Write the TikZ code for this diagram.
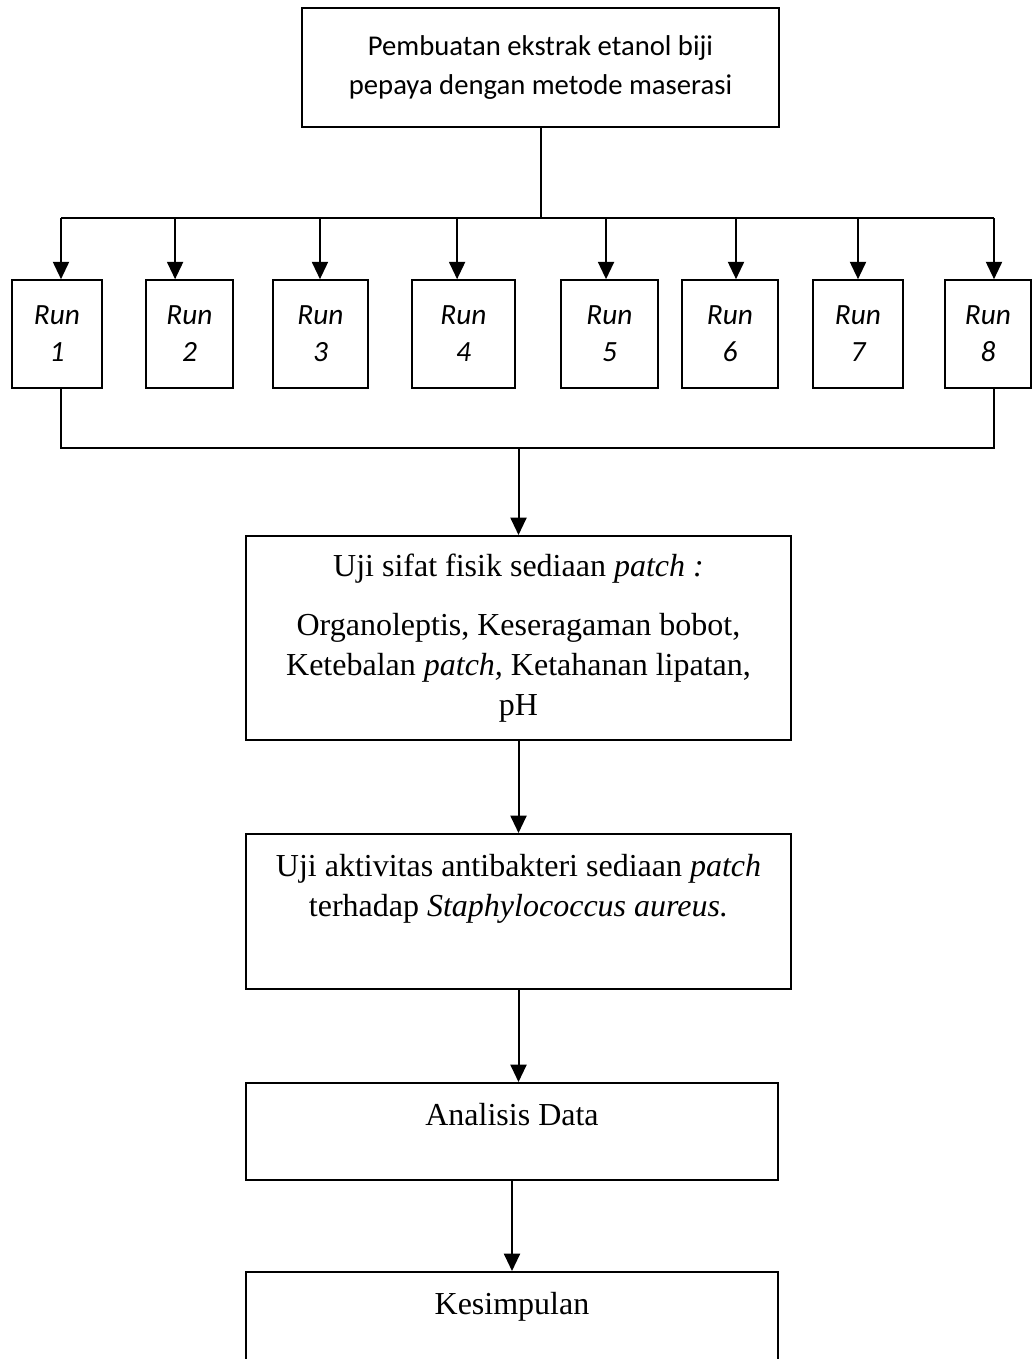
\documentclass[tikz,border=0pt]{standalone}
\usepackage{fontspec}
\setmainfont{Liberation Serif}
\newfontfamily\calibri{Carlito}
\usepackage{tikz}
\usetikzlibrary{arrows.meta}
\usetikzlibrary{positioning}

\begin{document}
\begin{tikzpicture}[
        x=0.375pt, y=-0.375pt,
        startbox/.style={rectangle, draw=black, line width=0.6pt, align=center, minimum width=178.9pt, minimum height=44.6pt, font=\calibri\fontsize{10.75}{14.6}\selectfont},
        runbox/.style={rectangle, draw=black, line width=0.6pt, align=center, minimum height=40.5pt, inner xsep=0pt, font=\calibri\itshape\fontsize{11}{13.9}\selectfont},
        flowbox/.style={rectangle, draw=black, line width=0.6pt, align=center, anchor=north, inner xsep=4pt, inner ysep=7.5pt, font=\fontsize{12}{15}\selectfont},
        flowline/.style={line width=0.75pt},
        flowarrow/.style={flowline, -{Triangle[width=6pt, length=6.5pt]}}
      ]
        \useasboundingbox (0,0) rectangle (1033,1359);
        \clip (0,0) rectangle (1033,1359);

        \node[startbox] (ekstrak) at (540.5,67.5) {Pembuatan ekstrak etanol biji\\pepaya dengan metode maserasi};
        \coordinate (bus) at (540.5,218);
        \coordinate (collect) at (518.5,448);

        % eight runs
        \foreach \i/\cx/\w/\dx in {1/57/33.8/1.5, 2/189.5/32.6/-5.4, 3/320.5/35.6/-0.2, 4/463.5/38.6/-2.4,
                                   5/609.5/36.4/-1.3, 6/730/36/2.25, 7/858/33.8/0, 8/988/32.3/2.25} {
          \node[runbox, minimum width=\w pt] (run\i) at (\cx,334) {Run\\\i};
          \coordinate (in\i) at ([xshift=\dx pt]run\i.north);
          \draw[flowarrow] (in\i |- bus) -- (in\i);
        }

        \draw[flowline] (ekstrak.south) -- (bus);
        \draw[flowline] (in1 |- bus) -- (in8 |- bus);
        \draw[flowline] (in1 |- run1.south) -- (in1 |- collect) -- (in8 |- collect) -- (in8 |- run8.south);

        \node[flowbox, minimum width=204.4pt, inner ysep=6.8pt, text depth=2.6pt] (fisik) at (518.5,535)
          {Uji sifat fisik sediaan \textit{patch :}\\[7pt]
           Organoleptis, Keseragaman bobot,\\
           Ketebalan \textit{patch,} Ketahanan lipatan,\\
           pH};
        \node[flowbox, minimum width=204.4pt, text depth=19.9pt] (antibakteri) at (518.5,833)
          {Uji aktivitas antibakteri sediaan \textit{patch}\\
           terhadap \textit{Staphylococcus aureus.}};
        \node[flowbox, minimum width=199.5pt, text depth=13.1pt] (analisis) at (512,1082) {Analisis Data};
        \node[flowbox, minimum width=199.5pt, text depth=13.1pt] (kesimpulan) at (512,1271) {Kesimpulan};

        \draw[flowarrow] (collect) -- (fisik.north);
        \draw[flowarrow] (fisik.south) -- (antibakteri.north);
        \draw[flowarrow] (antibakteri.south) -- (antibakteri.south |- analisis.north);
        \draw[flowarrow] (analisis.south -| kesimpulan.north) -- (kesimpulan.north);
      \end{tikzpicture}
\end{document}
